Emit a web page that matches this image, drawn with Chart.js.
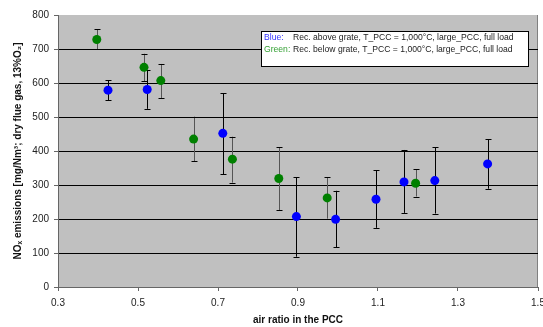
<!DOCTYPE html>
<html>
<head>
<meta charset="utf-8">
<script src="https://cdn.jsdelivr.net/npm/chart.js@4/dist/chart.umd.min.js"></script>
<style>
  html, body { margin: 0; padding: 0; background: #fff; }
  #wrap { width: 543px; height: 327px; }
</style>
</head>
<body>
<div id="wrap"><canvas id="chart" width="543" height="327"></canvas></div>
<script>
// values
var blueX  = [0.425, 0.523, 0.712, 0.896, 0.994, 1.095, 1.165, 1.242, 1.374];
var blueY  = [579, 581, 452, 207, 199, 258, 309, 313, 362];
var blueHi = [608, 638, 570, 323, 283, 344, 403, 411, 434];
var blueLo = [549, 524, 332, 89, 117, 174, 218, 216, 289];

var greenX  = [0.397, 0.515, 0.557, 0.639, 0.736, 0.852, 0.973, 1.194];
var greenY  = [728, 646, 607, 435, 376, 319, 262, 305];
var greenHi = [758, 686, 656, 501, 442, 411, 323, 346];
var greenLo = [700, 606, 556, 370, 307, 226, 201, 266];

var legendLines = [
    { key: "Blue:",  color: "#3333ff", text: "Rec. above grate, T_PCC = 1,000°C, large_PCC, full load" },
    { key: "Green:", color: "#33a033", text: "Rec. below grate, T_PCC = 1,000°C, large_PCC, full load" }
];

function toPoints(xs, ys) {
    var pts = [];
    for (var i = 0; i < xs.length; i++) pts.push({ x: xs[i], y: ys[i] });
    return pts;
}

var plotBg = {
    id: 'plotBg',
    beforeDraw: function (chart) {
        var a = chart.chartArea, ctx = chart.ctx;
        ctx.save();
        ctx.fillStyle = '#c0c0c0';
        ctx.fillRect(a.left, a.top, a.right - a.left, a.bottom - a.top);
        ctx.strokeStyle = '#808080';
        ctx.lineWidth = 1;
        ctx.beginPath();
        ctx.moveTo(a.right - 0.5, a.top);
        ctx.lineTo(a.right - 0.5, a.bottom);
        ctx.stroke();
        ctx.restore();
    }
};

var errorBars = {
    id: 'errorBars',
    beforeDatasetsDraw: function (chart) {
        var ctx = chart.ctx, xs = chart.scales.x, ys = chart.scales.y;
        var sets = [
            { x: greenX, hi: greenHi, lo: greenLo, stem: '#555555' },
            { x: blueX, hi: blueHi, lo: blueLo, stem: '#000000' }
        ];
        ctx.save();
        ctx.lineWidth = 1;
        sets.forEach(function (s) {
            for (var i = 0; i < s.x.length; i++) {
                var px = Math.round(xs.getPixelForValue(s.x[i])) + 0.5;
                var top = ys.getPixelForValue(s.hi[i]);
                var bot = ys.getPixelForValue(s.lo[i]);
                ctx.strokeStyle = s.stem;
                ctx.beginPath();
                ctx.moveTo(px, top);
                ctx.lineTo(px, bot);
                ctx.stroke();
                ctx.strokeStyle = '#000';
                ctx.beginPath();
                ctx.moveTo(px - 3, Math.round(top) + 0.5);
                ctx.lineTo(px + 3, Math.round(top) + 0.5);
                ctx.moveTo(px - 3, Math.round(bot) + 0.5);
                ctx.lineTo(px + 3, Math.round(bot) + 0.5);
                ctx.stroke();
            }
        });
        ctx.restore();
    }
};

var boxLegend = {
    id: 'boxLegend',
    afterDraw: function (chart) {
        var ctx = chart.ctx;
        ctx.save();
        ctx.fillStyle = '#fff';
        ctx.fillRect(261, 31, 268, 36);
        ctx.strokeStyle = '#000';
        ctx.lineWidth = 1;
        ctx.strokeRect(261.5, 31.5, 267, 35);
        ctx.font = '8.6px Arial, "Liberation Sans", sans-serif';
        ctx.textBaseline = 'middle';
        legendLines.forEach(function (l, i) {
            var y = 37.5 + i * 12.5;
            ctx.fillStyle = l.color;
            ctx.fillText(l.key, 264, y);
            ctx.fillStyle = '#222';
            ctx.fillText(l.text, 293, y);
        });
        ctx.restore();
    }
};

var tickFont = { family: 'Arial, "Liberation Sans", sans-serif', size: 10 };
var titleFont = { family: 'Arial, "Liberation Sans", sans-serif', size: 10, weight: 'bold' };

new Chart(document.getElementById('chart'), {
    type: 'scatter',
    data: {
        datasets: [{
            label: 'Blue',
            data: toPoints(blueX, blueY),
            backgroundColor: '#0000ff',
            borderWidth: 0,
            pointRadius: 4.5
        }, {
            label: 'Green',
            data: toPoints(greenX, greenY),
            backgroundColor: '#008000',
            borderWidth: 0,
            pointRadius: 4.5
        }]
    },
    options: {
        responsive: false,
        animation: false,
        layout: { padding: { top: 15, right: 5, left: 0, bottom: 0 } },
        plugins: {
            legend: { display: false },
            tooltip: { enabled: false }
        },
        scales: {
            x: {
                type: 'linear',
                min: 0.3,
                max: 1.5,
                ticks: {
                    stepSize: 0.2,
                    color: '#222',
                    font: tickFont,
                    padding: 6,
                    maxRotation: 0,
                    callback: function (v) { return v.toFixed(1); }
                },
                grid: { drawOnChartArea: false, drawTicks: true, tickLength: 4, color: '#666' },
                border: { color: '#666', width: 1 },
                title: {
                    display: true,
                    text: 'air ratio in the PCC',
                    color: '#111',
                    font: titleFont,
                    padding: { top: 4, bottom: 1 }
                },
                afterFit: function (s) {
                    s.height = 40;
                    // let the last label run off the edge like the original
                    s.paddingLeft = 0;
                    s.paddingRight = 0;
                }
            },
            y: {
                min: 0,
                max: 800,
                ticks: { stepSize: 100, color: '#222', font: tickFont, padding: 5 },
                grid: {
                    tickLength: 4,
                    color: function (c) {
                        return (c.tick && c.tick.value > 0 && c.tick.value < 800) ? '#000' : 'rgba(0,0,0,0)';
                    },
                    tickColor: '#666'
                },
                border: { color: '#666', width: 1 },
                title: {
                    display: true,
                    text: 'NOₓ emissions [mg/Nm³; dry flue gas, 13%O₂]',
                    color: '#111',
                    font: titleFont,
                    padding: { top: 12, bottom: 4 }
                },
                afterFit: function (s) {
                    s.width = 58;
                    s.paddingTop = 0;
                    s.paddingBottom = 0;
                }
            }
        }
    },
    plugins: [plotBg, errorBars, boxLegend]
});
</script>
</body>
</html>
